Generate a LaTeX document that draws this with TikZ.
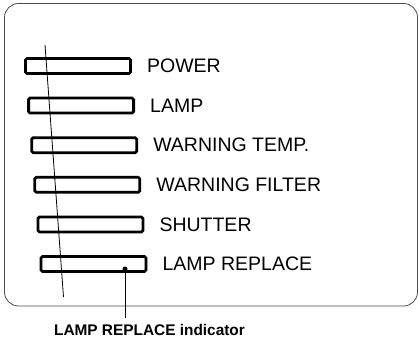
\documentclass[tikz,border=0pt]{standalone}
\usepackage{fontspec}
\setmainfont{Liberation Sans}
\usepackage{tikz}
\usetikzlibrary{
    arrows.meta,
    positioning
}
\usepackage{xcolor}

\begin{document}
\begin{tikzpicture}[
        x=1pt, y=-1pt,
        lamp/.style={
            rectangle,
            draw,
            line width=2.8pt,
            rounded corners=1.5pt,
            minimum width=105pt,
            minimum height=15pt,
            inner sep=0pt
        },
        lamptext/.style={
            inner sep=0pt,
            anchor=west,
            font=\fontsize{19.5}{22}\selectfont
        },
        node distance=15pt
    ]
        \useasboundingbox (0,0) rectangle (419,339);
        \draw[black!70, line width=0.8pt, rounded corners=14pt] (4.5,3.5) rectangle (417.5,306);

        \node[lamp] (power)   at (78,66)      {};
        \node[lamp] (lamp)    at (81.1,105.6) {};
        \node[lamp] (temp)    at (84.2,145.2) {};
        \node[lamp] (filter)  at (87.3,184.8) {};
        \node[lamp] (shutter) at (90.4,224.4) {};
        \node[lamp] (replace) at (93.5,264)   {};

        \node[lamptext, right=of power]   (powertext)   {POWER};
        \node[lamptext, right=of lamp]    (lamptext)    {LAMP};
        \node[lamptext, right=of temp]    (temptext)    {WARNING TEMP.};
        \node[lamptext, right=of filter]  (filtertext)  {WARNING FILTER};
        \node[lamptext, right=of shutter] (shuttertext) {SHUTTER};
        \node[lamptext, right=of replace] (replacetext) {LAMP REPLACE};

        \coordinate (top) at (45,45);
        \coordinate (bottom) at (63.5,297);
        \draw[line width=0.8pt] (top) -- (bottom);

        \coordinate (dot) at (125,269);
        \coordinate (tip) at (125,318);
        \fill (dot) circle (2.5pt);
        \draw[line width=1pt] (dot) -- (tip);

        \node[inner sep=0pt, anchor=base, font=\fontsize{15.4}{18}\selectfont\bfseries]
            (caption) at (149.5,335.5) {LAMP REPLACE indicator};
    \end{tikzpicture}
\end{document}
